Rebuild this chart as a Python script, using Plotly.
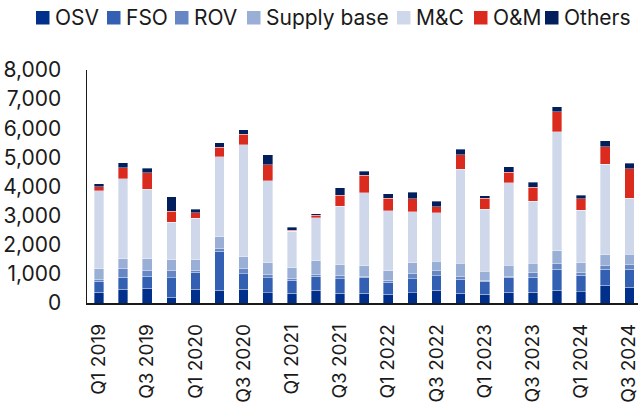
import plotly.graph_objects as go

quarters = ["Q1 2019", "Q2 2019", "Q3 2019", "Q4 2019",
            "Q1 2020", "Q2 2020", "Q3 2020", "Q4 2020",
            "Q1 2021", "Q2 2021", "Q3 2021", "Q4 2021",
            "Q1 2022", "Q2 2022", "Q3 2022", "Q4 2022",
            "Q1 2023", "Q2 2023", "Q3 2023", "Q4 2023",
            "Q1 2024", "Q2 2024", "Q3 2024"]

osv = [366, 469, 503, 194, 469, 434, 469, 354, 331, 434, 331, 331,
       297, 354, 434, 331, 297, 366, 366, 446, 389, 606, 537]
fso = [377, 411, 411, 675, 583, 1349, 537, 515, 446, 480, 503, 549,
       412, 480, 503, 480, 457, 525, 514, 708, 560, 548, 617]
rov = [57, 309, 195, 240, 68, 80, 171, 103, 69, 58, 103, 34,
       68, 172, 172, 92, 23, 23, 172, 206, 103, 138, 160]
supply_base = [377, 331, 411, 377, 366, 412, 412, 411, 366, 480, 377, 366,
               332, 377, 320, 457, 309, 378, 308, 435, 331, 365, 366]
mc = [2675, 2743, 2378, 1280, 1417, 2754, 3840, 2823, 1245, 1474, 2012, 2503,
      2057, 1749, 1669, 3235, 2126, 2834, 2126, 4080, 1806, 3109, 1920]
om = [137, 377, 571, 389, 195, 320, 366, 537, 35, 92, 377, 606,
      423, 446, 205, 491, 388, 366, 492, 686, 389, 595, 1006]
others = [103, 172, 160, 491, 125, 160, 160, 343, 114, 45, 252, 137,
          160, 217, 183, 195, 80, 194, 171, 183, 114, 206, 194]

series_names = ["OSV", "FSO", "ROV", "Supply base", "M&C", "O&M", "Others"]
series_values = [osv, fso, rov, supply_base, mc, om, others]
series_colors = ["rgb(0,48,140)", "rgb(51,96,178)", "rgb(102,134,196)",
                 "rgb(154,175,214)", "rgb(206,216,234)", "rgb(219,43,30)",
                 "rgb(0,31,92)"]

y_ticks = [0, 1000, 2000, 3000, 4000, 5000, 6000, 7000, 8000]
x_ticks = quarters[::2]

# legend swatch left edges, in pixels
legend_swatch_x = [36, 107, 175, 247, 397, 474, 545]

font = "Inter, Roboto, sans-serif"

W, H = 638, 402
PLOT_L, PLOT_T, PLOT_B, PLOT_R = 87, 70, 303, 638
ML, MT, MR, MB = PLOT_L, PLOT_T, W - PLOT_R, H - PLOT_B
PW, PH = PLOT_R - PLOT_L, PLOT_B - PLOT_T


def px_x(px):
    return (px - PLOT_L) / PW


def px_y(py):
    return (PLOT_B - py) / PH


fig = go.Figure()
for name, vals, color in zip(series_names, series_values, series_colors):
    fig.add_trace(go.Bar(
        x=quarters, y=vals, name=name,
        marker=dict(color=color, line=dict(color="rgba(255,255,255,0.6)", width=0.6)),
        width=0.4,
    ))

shapes = []
annotations = []
for name, color, sx in zip(series_names, series_colors, legend_swatch_x):
    shapes.append(dict(type="rect", xref="paper", yref="paper",
                       x0=px_x(sx), x1=px_x(sx + 13.5),
                       y0=px_y(24.5), y1=px_y(11),
                       fillcolor=color, line=dict(width=0)))
    annotations.append(dict(text=name, xref="paper", yref="paper",
                            x=px_x(sx + 16.5), y=px_y(17.5),
                            xanchor="left", yanchor="middle", showarrow=False,
                            font=dict(size=21, family=font, color="#1a1a1a")))

fig.update_layout(
    barmode="stack",
    width=W, height=H,
    margin=dict(l=ML, r=MR, t=MT, b=MB, autoexpand=False),
    paper_bgcolor="white", plot_bgcolor="white",
    font=dict(family=font, color="#1a1a1a", size=17),
    showlegend=False,
    shapes=shapes,
    annotations=annotations,
    xaxis=dict(
        type="category", categoryorder="array", categoryarray=quarters,
        range=[-0.5, 22.36],
        tickmode="array", tickvals=x_ticks, ticktext=x_ticks,
        tickangle=-90, showline=True, linecolor="#1a1a1a", linewidth=1.5,
        ticks="", showgrid=False, zeroline=False,
        ticklabelstandoff=12,
        tickfont=dict(size=19, family=font, color="#1a1a1a"),
    ),
    yaxis=dict(
        range=[0, 8000], tickmode="array", tickvals=y_ticks,
        tickformat=",d", showline=True, linecolor="#1a1a1a", linewidth=1.5,
        ticks="", showgrid=False, zeroline=False,
        ticklabelstandoff=20,
        tickfont=dict(size=21, family=font, color="#1a1a1a"),
    ),
)

fig.write_html(
    "out.html",
    config={"displayModeBar": False, "staticPlot": True},
    post_script="document.body.style.margin='0';document.body.style.overflow='hidden';",
)
